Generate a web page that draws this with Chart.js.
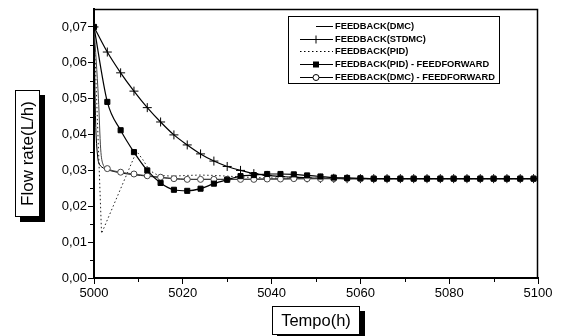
<!DOCTYPE html>
<html>
<head>
<meta charset="utf-8">
<script src="https://cdn.jsdelivr.net/npm/chart.js@4.4.1/dist/chart.umd.min.js"></script>
<style>
  html, body { margin: 0; padding: 0; background: #fff; }
  #wrap { position: relative; width: 562px; height: 336px; }
</style>
</head>
<body>
<div id="wrap"><canvas id="c" width="562" height="336"></canvas></div>
<script>
// Flow rate vs time, five control strategies

const xTicks = [5000, 5020, 5040, 5060, 5080, 5100];
const xMinor = [5010, 5030, 5050, 5070, 5090];
const yTicks = [0, 0.01, 0.02, 0.03, 0.04, 0.05, 0.06, 0.07];
const yMinor = [0.005, 0.015, 0.025, 0.035, 0.045, 0.055, 0.065];

const seriesNames = [
  'FEEDBACK(DMC)',
  'FEEDBACK(STDMC)',
  'FEEDBACK(PID)',
  'FEEDBACK(PID) - FEEDFORWARD',
  'FEEDBACK(DMC) - FEEDFORWARD'
];

// sampling of the marker series (every 3 h)
const tMark = [5000, 5003, 5006, 5009, 5012, 5015, 5018, 5021, 5024, 5027, 5030, 5033,
  5036, 5039, 5042, 5045, 5048, 5051, 5054, 5057, 5060, 5063, 5066, 5069, 5072, 5075,
  5078, 5081, 5084, 5087, 5090, 5093, 5096, 5099, 5100];

const stdmc = [0.0700, 0.0630, 0.0572, 0.0521, 0.0475, 0.0435, 0.0399, 0.0371, 0.0346, 0.0326,
  0.0311, 0.0300, 0.0291, 0.0286, 0.0283, 0.0281, 0.0279, 0.0278, 0.0278, 0.0277, 0.0277,
  0.0277, 0.0277, 0.0277, 0.0277, 0.0277, 0.0277, 0.0277, 0.0277, 0.0277, 0.0277, 0.0277,
  0.0277, 0.0277, 0.0277];

const pidFF = [0.0700, 0.0491, 0.0412, 0.0351, 0.0300, 0.0265, 0.0246, 0.0243, 0.0249, 0.0263,
  0.0274, 0.0284, 0.0287, 0.0290, 0.0290, 0.0289, 0.0286, 0.0283, 0.0280, 0.0279, 0.0278,
  0.0277, 0.0277, 0.0277, 0.0277, 0.0277, 0.0277, 0.0277, 0.0277, 0.0277, 0.0277, 0.0277,
  0.0277, 0.0277, 0.0277];

const tDmcFF = [5000, 5001, 5001.5, 5002, 5003, 5006, 5009, 5012, 5015, 5018, 5021, 5024, 5027,
  5030, 5033, 5036, 5039, 5042, 5045, 5048, 5051, 5054, 5057, 5060, 5063, 5066, 5069, 5072,
  5075, 5078, 5081, 5084, 5087, 5090, 5093, 5096, 5099, 5100];
const dmcFF = [0.0700, 0.0500, 0.0360, 0.0318, 0.0305, 0.0295, 0.0290, 0.0285, 0.0281, 0.0277,
  0.0275, 0.0275, 0.0275, 0.0275, 0.0275, 0.0275, 0.0276, 0.0276, 0.0277, 0.0277, 0.0277,
  0.0277, 0.0277, 0.0277, 0.0277, 0.0277, 0.0277, 0.0277, 0.0277, 0.0277, 0.0277, 0.0277,
  0.0277, 0.0277, 0.0277, 0.0277, 0.0277, 0.0277];

const tDmc = [5000, 5000.4, 5000.9, 5001.5, 5003, 5006, 5009, 5012, 5015, 5018, 5021, 5024,
  5030, 5040, 5050, 5060, 5080, 5100];
const dmc = [0.0700, 0.0420, 0.0330, 0.0312, 0.0302, 0.0293, 0.0288, 0.0284, 0.0280, 0.0277,
  0.0275, 0.0275, 0.0275, 0.0276, 0.0277, 0.0277, 0.0277, 0.0277];

const tPid = [5000, 5001.7, 5003, 5005, 5007, 5009, 5009.8, 5011, 5012.5, 5014, 5016, 5018,
  5021, 5024, 5027, 5030, 5033, 5036, 5040, 5045, 5050, 5060, 5080, 5100];
const pid = [0.0700, 0.0124, 0.0162, 0.0220, 0.0278, 0.0336, 0.0350, 0.0330, 0.0300, 0.0289,
  0.0285, 0.0284, 0.0286, 0.0287, 0.0286, 0.0284, 0.0282, 0.0280, 0.0279, 0.0278, 0.0278,
  0.0277, 0.0277, 0.0277];

const FONT = '"Liberation Sans", Arial, sans-serif';

function pts(xs, ys) {
  return xs.map((x, i) => ({ x, y: ys[i] }));
}

// markers only on the 3 h grid
function onGrid(r) {
  return ctx => {
    const x = ctx.raw ? ctx.raw.x : 0;
    return (Number.isInteger(x) && (x - 5000) % 3 === 0) ? r : 0;
  };
}

const datasets = [
  {
    label: seriesNames[0], data: pts(tDmc, dmc), order: 3,
    borderColor: '#000', borderWidth: 1, pointRadius: 0, tension: 0.3
  },
  {
    label: seriesNames[1], data: pts(tMark, stdmc), order: 2,
    borderColor: '#000', borderWidth: 1.2, cubicInterpolationMode: 'monotone',
    pointStyle: 'cross', pointRadius: onGrid(4.5), pointBorderWidth: 1,
    pointBorderColor: '#000'
  },
  {
    label: seriesNames[2], data: pts(tPid, pid), order: 4,
    borderColor: '#222', borderWidth: 1, borderDash: [1.5, 2.5], pointRadius: 0, tension: 0
  },
  {
    label: seriesNames[3], data: pts(tMark, pidFF), order: 0,
    borderColor: '#000', borderWidth: 1.2, cubicInterpolationMode: 'monotone',
    pointStyle: 'rect', pointRadius: onGrid(3.6), pointBackgroundColor: '#000',
    pointBorderColor: '#000', pointBorderWidth: 1
  },
  {
    label: seriesNames[4], data: pts(tDmcFF, dmcFF), order: 1,
    borderColor: '#444', borderWidth: 1, cubicInterpolationMode: 'monotone',
    pointStyle: 'circle', pointRadius: onGrid(3), pointBackgroundColor: '#fff',
    pointBorderColor: '#444', pointBorderWidth: 1
  }
];

function marker(ctx, kind, x, y) {
  ctx.save();
  ctx.strokeStyle = '#000';
  ctx.fillStyle = '#000';
  ctx.lineWidth = 1;
  if (kind === 'cross') {
    ctx.beginPath();
    ctx.moveTo(x - 4, y); ctx.lineTo(x + 4, y);
    ctx.moveTo(x, y - 4); ctx.lineTo(x, y + 4);
    ctx.stroke();
  } else if (kind === 'rect') {
    ctx.fillRect(x - 3, y - 3, 6, 6);
  } else if (kind === 'circle') {
    ctx.fillStyle = '#fff';
    ctx.beginPath();
    ctx.arc(x, y, 3, 0, Math.PI * 2);
    ctx.fill();
    ctx.stroke();
  }
  ctx.restore();
}

function titleBox(ctx, x, y, w, h, shadow) {
  ctx.fillStyle = '#000';
  ctx.fillRect(x + shadow, y + shadow, w, h);
  ctx.fillStyle = '#fff';
  ctx.fillRect(x, y, w, h);
  ctx.strokeStyle = '#000';
  ctx.lineWidth = 1;
  ctx.strokeRect(x + 0.5, y + 0.5, w - 1, h - 1);
}

const decor = {
  id: 'decor',
  afterDraw(chart) {
    const ctx = chart.ctx;
    const a = chart.chartArea;
    const xs = chart.scales.x, ys = chart.scales.y;
    ctx.save();

    // frame: top and right edges
    ctx.strokeStyle = '#000';
    ctx.lineWidth = 1.5;
    ctx.beginPath();
    ctx.moveTo(a.left, a.top + 0.5);
    ctx.lineTo(a.right - 0.5, a.top + 0.5);
    ctx.lineTo(a.right - 0.5, a.bottom);
    ctx.stroke();

    // minor ticks
    ctx.lineWidth = 1;
    ctx.beginPath();
    xMinor.forEach(v => {
      const px = Math.round(xs.getPixelForValue(v)) + 0.5;
      ctx.moveTo(px, a.bottom); ctx.lineTo(px, a.bottom + 4);
    });
    yMinor.forEach(v => {
      const py = Math.round(ys.getPixelForValue(v)) + 0.5;
      ctx.moveTo(a.left - 4, py); ctx.lineTo(a.left, py);
    });
    ctx.stroke();

    // legend
    const lx = 288, ly = 16, lw = 212, lh = 68;
    ctx.fillStyle = '#fff';
    ctx.fillRect(lx, ly, lw, lh);
    ctx.strokeStyle = '#000';
    ctx.strokeRect(lx + 0.5, ly + 0.5, lw - 1, lh - 1);
    const kinds = [null, 'cross', null, 'rect', 'circle'];
    ctx.font = 'bold 9.3px ' + FONT;
    ctx.textBaseline = 'middle';
    seriesNames.forEach((name, i) => {
      const y = Math.round(ly + 10 + i * 12.7) + 0.5;
      ctx.strokeStyle = '#000';
      ctx.lineWidth = 1;
      ctx.setLineDash(i === 2 ? [1.5, 2.5] : []);
      ctx.beginPath();
      ctx.moveTo(i === 0 ? 316 : 300, y); ctx.lineTo(333, y);
      ctx.stroke();
      ctx.setLineDash([]);
      if (kinds[i]) marker(ctx, kinds[i], 316, y);
      ctx.fillStyle = '#000';
      ctx.fillText(name, 335, y);
    });

    // axis titles in shadowed boxes
    titleBox(ctx, 15, 90, 25, 127, 5);
    ctx.save();
    ctx.translate(28, 153.5);
    ctx.rotate(-Math.PI / 2);
    ctx.fillStyle = '#000';
    ctx.font = '17px ' + FONT;
    ctx.textAlign = 'center';
    ctx.textBaseline = 'middle';
    ctx.fillText('Flow rate(L/h)', 0, 0);
    ctx.restore();

    titleBox(ctx, 272, 306, 88, 29, 5);
    ctx.fillStyle = '#000';
    ctx.font = '16.5px ' + FONT;
    ctx.textAlign = 'center';
    ctx.textBaseline = 'middle';
    ctx.fillText('Tempo(h)', 316, 321);

    ctx.restore();
  }
};

new Chart(document.getElementById('c'), {
  type: 'scatter',
  data: { datasets },
  options: {
    responsive: false,
    animation: false,
    devicePixelRatio: 1,
    showLine: true,
    layout: { padding: { top: 9, right: 24, left: 0, bottom: 0 } },
    plugins: { legend: { display: false }, tooltip: { enabled: false } },
    scales: {
      x: {
        type: 'linear', min: 5000, max: 5100,
        afterBuildTicks: s => { s.ticks = xTicks.map(v => ({ value: v })); },
        afterFit: s => { s.height = 58; },
        ticks: { color: '#000', font: { family: FONT, size: 13 }, padding: 2, maxRotation: 0,
          callback: v => String(v) },
        grid: { drawOnChartArea: false, tickLength: 6, color: '#000', tickWidth: 1 },
        border: { display: true, color: '#000', width: 2 }
      },
      y: {
        min: 0, max: 0.075,
        afterBuildTicks: s => { s.ticks = yTicks.map(v => ({ value: v })); },
        afterFit: s => { s.width = 94; },
        ticks: { color: '#000', font: { family: FONT, size: 13 }, padding: 1,
          callback: v => v.toFixed(2).replace('.', ',') },
        grid: { drawOnChartArea: false, tickLength: 6, color: '#000', tickWidth: 1 },
        border: { display: true, color: '#000', width: 2 }
      }
    }
  },
  plugins: [decor]
});
</script>
</body>
</html>
